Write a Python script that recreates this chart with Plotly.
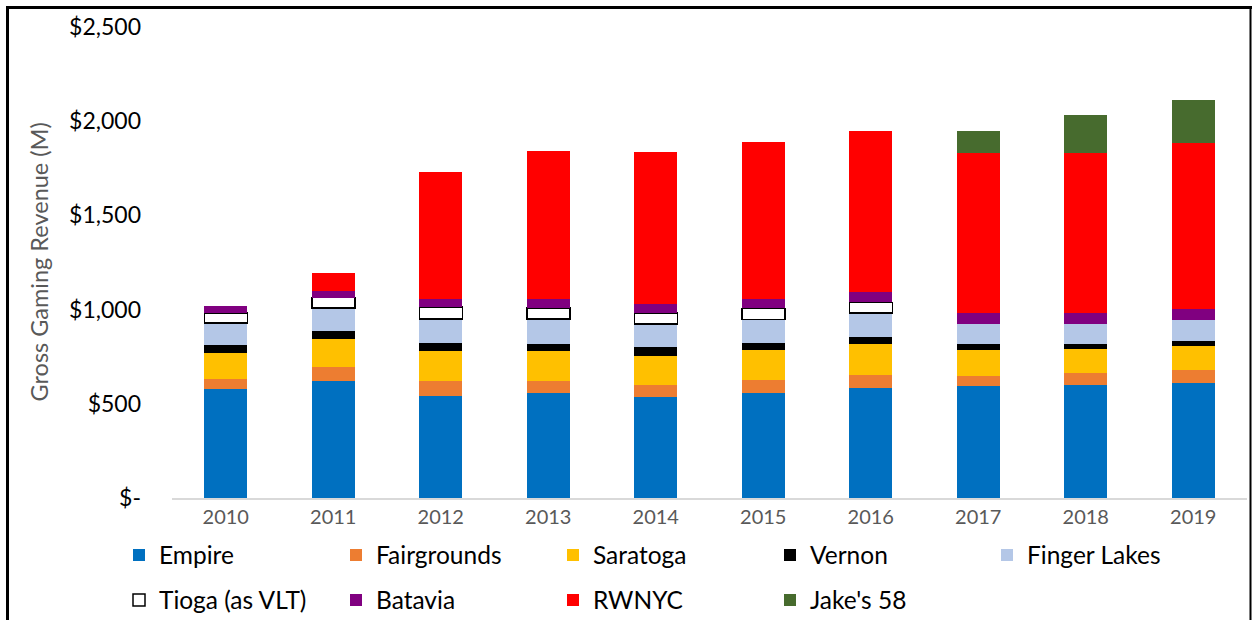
import plotly.graph_objects as go

years = ["2010", "2011", "2012", "2013", "2014", "2015", "2016", "2017", "2018", "2019"]

empire = [576, 619, 539, 557, 534, 555, 584, 592, 598, 610]
fairgrounds = [55, 74, 80, 62, 64, 69, 67, 58, 64, 67]
saratoga = [139, 151, 161, 159, 158, 159, 168, 138, 130, 130]
vernon = [41, 40, 42, 41, 44, 39, 37, 30, 28, 28]
finger_lakes = [117, 124, 129, 131, 124, 126, 126, 108, 105, 108]
tioga = [53, 56, 62, 58, 58, 58, 56, None, None, None]
batavia = [39, 37, 44, 48, 48, 51, 53, 55, 58, 60]
rwnyc = [None, 92, 671, 787, 808, 832, 855, 849, 849, 881]
jakes = [None, None, None, None, None, None, None, 117, 203, 228]

tick_vals = [0, 500, 1000, 1500, 2000, 2500]
tick_text = ["$-", "$500", "$1,000", "$1,500", "$2,000", "$2,500"]

W, H = 1252, 620
ML, MR, MT, MB = 172, 5, 27, 122
PW, PH = W - ML - MR, H - MT - MB

FONT = "Lato"

series = [
    ("Empire", empire, "#0070C0", "legend"),
    ("Fairgrounds", fairgrounds, "#ED7D31", "legend"),
    ("Saratoga", saratoga, "#FFC000", "legend"),
    ("Vernon", vernon, "#000000", "legend"),
    ("Finger Lakes", finger_lakes, "#B4C7E7", "legend"),
    ("Tioga (as VLT)", tioga, "#FFFFFF", "legend2"),
    ("Batavia", batavia, "#800080", "legend2"),
    ("RWNYC", rwnyc, "#FF0000", "legend2"),
    ("Jake's 58", jakes, "#476B2E", "legend2"),
]

fig = go.Figure()
for name, vals, color, lg in series:
    if name.startswith("Tioga"):
        line = dict(color="#000000", width=1.5)
    else:
        line = dict(color=color, width=0)
    fig.add_trace(go.Bar(x=years, y=vals, name=name, marker=dict(color=color, line=line),
                         legend=lg))


def px_x(p):
    return (p - ML) / PW


def px_y(p):
    return (H - MB - p) / PH


leg_common = dict(orientation="h", traceorder="normal", xanchor="left", yanchor="middle",
                  font=dict(family=FONT, size=24.5, color="#000000"),
                  entrywidth=172, entrywidthmode="pixels", itemwidth=30,
                  bgcolor="rgba(0,0,0,0)")

fig.update_layout(
    width=W, height=H,
    margin=dict(l=ML, r=MR, t=MT, b=MB, autoexpand=False),
    paper_bgcolor="white", plot_bgcolor="white",
    barmode="stack", bargap=0.6,
    font=dict(family=FONT),
    legend=dict(x=px_x(119), y=px_y(555), **leg_common),
    legend2=dict(x=px_x(119), y=px_y(600), **leg_common),
    xaxis=dict(showgrid=False, showline=True, linecolor="#D9D9D9", linewidth=2,
               ticks="", tickfont=dict(family=FONT, size=20, color="#595959")),
    yaxis=dict(range=[0, 2500], showgrid=False, zeroline=False, showline=False,
               tickvals=tick_vals, ticktext=tick_text, ticklabelstandoff=30,
               tickfont=dict(family=FONT, size=23, color="#000000")),
    annotations=[dict(text="Gross Gaming Revenue (M)", textangle=-90, xref="paper", yref="paper",
                      x=px_x(38), y=0.5, xanchor="center", yanchor="middle", showarrow=False,
                      font=dict(family=FONT, size=23.5, color="#595959"))],
    shapes=[
        dict(type="line", xref="paper", yref="paper", x0=px_x(7.5), x1=px_x(7.5), y0=px_y(7), y1=px_y(H + 5),
             line=dict(color="black", width=3)),
        dict(type="line", xref="paper", yref="paper", x0=px_x(6), x1=px_x(W + 5), y0=px_y(7.5), y1=px_y(7.5),
             line=dict(color="black", width=3)),
        dict(type="line", xref="paper", yref="paper", x0=px_x(1250.5), x1=px_x(1250.5), y0=px_y(7), y1=px_y(H + 5),
             line=dict(color="black", width=2)),
    ],
)

fig.write_html("out.html", config={"displayModeBar": False},
               post_script="document.body.style.margin='0px';")
